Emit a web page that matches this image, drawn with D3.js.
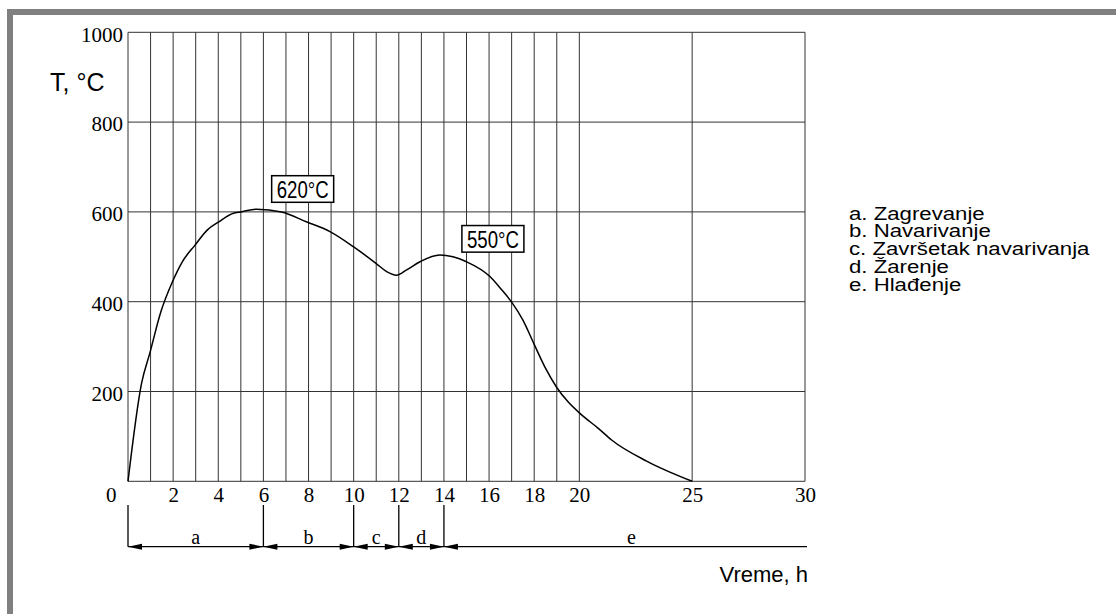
<!DOCTYPE html>
<html>
<head>
<meta charset="utf-8">
<script src="https://cdn.jsdelivr.net/npm/d3@7/dist/d3.min.js"></script>
<style>
  body { margin: 0; background: #fff; }
  .serif { font-family: "Liberation Serif", "Times New Roman", serif; }
  .sans { font-family: "Liberation Sans", Arial, sans-serif; }
</style>
</head>
<body>
<div id="chart"></div>
<script>
// temperature curve (time in h, T in °C)
let times = [0, 0.6, 0.97, 1.46, 1.94, 2.42, 2.97, 3.52, 4.0, 4.67, 5.0, 5.7, 6.8, 7.9, 8.95,
             10.0, 11.0, 11.46, 11.9, 12.35, 12.94, 13.82, 14.4, 15.0, 16.04, 16.5, 17.0, 17.5,
             18.0, 18.5, 19.0, 19.5, 20.1, 20.84, 21.43, 22.98, 25];
let temps = [0, 218, 286, 378, 441, 490, 526, 560, 577, 597, 600, 606, 600, 578, 556,
             522, 485, 467, 459, 471, 489, 504, 500, 489, 456, 430, 399, 359,
             305, 252, 209, 177, 148, 118, 92, 45, 0];

let xTicks = [2, 4, 6, 8, 10, 12, 14, 16, 18, 20, 25, 30];
let yTicks = [200, 400, 600, 800, 1000];
let gridX = [0, 1, 2, 3, 4, 5, 6, 7, 8, 9, 10, 11, 12, 13, 14, 15, 16, 17, 18, 19, 20, 25, 30];
let gridY = [0, 200, 400, 600, 800, 1000];

// phases of the process
let phaseNames = ["a", "b", "c", "d", "e"];
let phaseStart = [0, 6, 10, 12, 14];
let phaseEnd = [6, 10, 12, 14, 30];
let legendLines = ["a. Zagrevanje", "b. Navarivanje", "c. Završetak navarivanja", "d. Žarenje", "e. Hlađenje"];

// boxed peak labels
let peakText = ["620°C", "550°C"];
let peakTime = [7.74, 16.17];
let peakTemp = [651, 540];

let width = 1116, height = 614;

let svg = d3.select("#chart")
    .append("svg")
    .attr("width", width)
    .attr("height", height);

// gray outer frame (runs off right and bottom)
svg.append("rect")
    .attr("x", 10).attr("y", 12)
    .attr("width", 2000).attr("height", 2000)
    .attr("fill", "none")
    .attr("stroke", "#808080")
    .attr("stroke-width", 6);

let x = d3.scaleLinear().domain([0, 30]).range([128, 805]);
let y = d3.scaleLinear().domain([0, 1000]).range([481.3, 32.3]);

// grid
let grid = svg.append("g");
grid.selectAll(".vg")
    .data(gridX)
    .enter()
    .append("line")
    .attr("x1", d => x(d)).attr("x2", d => x(d))
    .attr("y1", y(0)).attr("y2", y(1000))
    .attr("stroke", "#333")
    .attr("stroke-width", 1);
grid.selectAll(".hg")
    .data(gridY)
    .enter()
    .append("line")
    .attr("x1", x(0)).attr("x2", x(30))
    .attr("y1", d => y(d)).attr("y2", d => y(d))
    .attr("stroke", "#333")
    .attr("stroke-width", 1);

// tick labels
let xAxis = d3.axisBottom(x).tickValues(xTicks).tickSize(0).tickPadding(6).tickFormat(d3.format("d"));
let yAxis = d3.axisLeft(y).tickValues(yTicks).tickSize(0).tickPadding(5).tickFormat(d3.format("d"));

let gx = svg.append("g")
    .attr("transform", "translate(0," + y(0) + ")")
    .call(xAxis);
let gy = svg.append("g")
    .attr("transform", "translate(" + x(0) + ",0)")
    .call(yAxis);
[gx, gy].forEach(g => {
    g.select(".domain").remove();
    g.selectAll("text")
        .attr("class", "serif")
        .attr("font-size", 21)
        .attr("fill", "#000");
});
gy.selectAll("text").attr("dy", "0.42em");

svg.append("text")
    .attr("class", "serif")
    .attr("x", x(0) - 22)
    .attr("y", y(0) + 21)
    .attr("font-size", 21)
    .text("0");

// axis titles
svg.append("text")
    .attr("class", "sans")
    .attr("x", 50).attr("y", 90.7)
    .attr("font-size", 25)
    .text("T, °C");
svg.append("text")
    .attr("class", "sans")
    .attr("x", 808).attr("y", 582)
    .attr("text-anchor", "end")
    .attr("font-size", 22)
    .text("Vreme, h");

// temperature curve
let line = d3.line()
    .x((d, i) => x(times[i]))
    .y(d => y(d))
    .curve(d3.curveMonotoneX);
svg.append("path")
    .datum(temps)
    .attr("d", line)
    .attr("fill", "none")
    .attr("stroke", "#000")
    .attr("stroke-width", 1.5);

// peak labels in boxes
let peaks = svg.selectAll(".peak")
    .data(peakText)
    .enter()
    .append("g")
    .attr("transform", (d, i) => "translate(" + x(peakTime[i]) + "," + y(peakTemp[i]) + ")");
peaks.append("rect")
    .attr("x", -31).attr("y", -13.3)
    .attr("width", 62).attr("height", 26.6)
    .attr("fill", "#fff")
    .attr("stroke", "#000")
    .attr("stroke-width", 1.5);
peaks.append("text")
    .attr("class", "sans")
    .attr("text-anchor", "middle")
    .attr("y", 9)
    .attr("font-size", 24)
    .attr("textLength", 52)
    .attr("lengthAdjust", "spacingAndGlyphs")
    .text(d => d);

// phase dimension bar
let barY = 546.7, barTop = 505;
let bar = svg.append("g");
bar.selectAll(".tick")
    .data(phaseStart)
    .enter()
    .append("line")
    .attr("x1", d => x(d)).attr("x2", d => x(d))
    .attr("y1", barTop).attr("y2", barY)
    .attr("stroke", "#000").attr("stroke-width", 1.3);
bar.append("line")
    .attr("x1", x(0)).attr("x2", x(30) + 2)
    .attr("y1", barY).attr("y2", barY)
    .attr("stroke", "#000").attr("stroke-width", 1.3);

// arrowheads: left-pointing at each start, right-pointing at each inner end
let arrowLen = 14, arrowHalf = 3;
bar.selectAll(".la")
    .data(phaseStart)
    .enter()
    .append("path")
    .attr("d", d => "M" + x(d) + "," + barY + "L" + (x(d) + arrowLen) + "," + (barY - arrowHalf) +
                    "L" + (x(d) + arrowLen) + "," + (barY + arrowHalf) + "Z")
    .attr("fill", "#000");
bar.selectAll(".ra")
    .data(phaseEnd.slice(0, phaseEnd.length - 1))
    .enter()
    .append("path")
    .attr("d", d => "M" + x(d) + "," + barY + "L" + (x(d) - arrowLen) + "," + (barY - arrowHalf) +
                    "L" + (x(d) - arrowLen) + "," + (barY + arrowHalf) + "Z")
    .attr("fill", "#000");
bar.selectAll(".pn")
    .data(phaseNames)
    .enter()
    .append("text")
    .attr("class", "serif")
    .attr("x", (d, i) => (x(phaseStart[i]) + x(phaseEnd[i])) / 2 + (i === 4 ? 7 : 0))
    .attr("y", barY - 3)
    .attr("text-anchor", "middle")
    .attr("font-size", 20)
    .text(d => d);

// legend (text is wide and tightly spaced in the original)
svg.append("g")
    .attr("transform", "translate(849,219.5) scale(1.2,1)")
    .selectAll("text")
    .data(legendLines)
    .enter()
    .append("text")
    .attr("class", "sans")
    .attr("x", 0)
    .attr("y", (d, i) => i * 18)
    .attr("font-size", 18.5)
    .text(d => d);
</script>
</body>
</html>
